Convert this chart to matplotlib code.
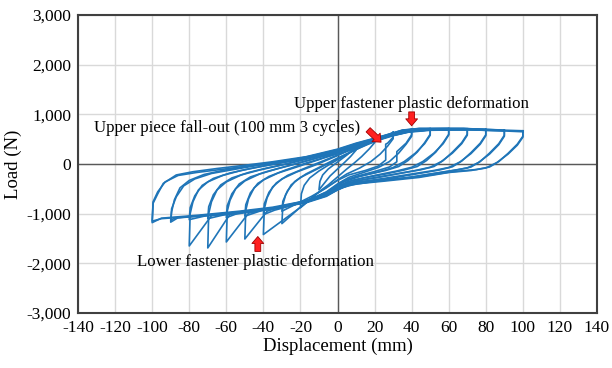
import matplotlib.pyplot as plt
import numpy as np

# Hysteresis loops (mm, N): first cycle at each target displacement
disp_a100 = [100, 100, 97, 92, 87, 82, 75, 62, 44, 25, 10, 3, -6, -17, -35, -53, -75, -95, -100,
             -99.5, -97, -94, -87, -78, -65, -49, -35, -17, 0, 10, 20, 26, 35, 44, 68, 88, 100]
load_a100 = [670, 560, 400, 215, 50, -60, -110, -155, -255, -320, -370, -430, -590, -740, -870, -950, -1030, -1090, -1180,
             -790, -600, -390, -220, -155, -90, -20, 46, 147, 300, 420, 520, 583, 684, 717, 717, 684, 670]

disp_a90 = [90, 90, 87, 82, 77, 72, 65, 55, 40, 22, 8, 2, -6, -17, -35, -53, -75, -86, -90,
            -89.5, -88, -85, -80, -72, -62, -49, -35, -17, 0, 10, 20, 26, 35, 44, 68, 90]
load_a90 = [684, 580, 410, 220, 50, -60, -115, -175, -265, -340, -400, -480, -620, -760, -890, -965, -1045, -1080, -1170,
            -960, -720, -480, -330, -210, -130, -45, 30, 135, 290, 410, 515, 580, 680, 714, 714, 684]

disp_a80 = [80, 80, 77, 72, 67, 62, 55, 44, 30, 15, 5, 0, -6, -17, -35, -53, -68, -80,
            -79.5, -78, -75, -70, -62, -52, -40, -28, -15, 0, 10, 20, 26, 35, 44, 68, 80]
load_a80 = [700, 590, 420, 230, 60, -55, -120, -190, -280, -350, -420, -520, -640, -770, -895, -975, -1040, -1650,
            -1000, -760, -520, -360, -230, -130, -40, 40, 140, 280, 400, 510, 575, 675, 710, 712, 700]

disp_a70 = [70, 70, 67, 62, 57, 52, 45, 35, 22, 10, 4, 0, -6, -17, -35, -48, -58, -70,
            -69.5, -68, -65, -60, -52, -42, -30, -17, 0, 10, 20, 26, 35, 44, 60, 70]
load_a70 = [710, 600, 430, 240, 70, -50, -115, -180, -270, -340, -410, -500, -630, -765, -890, -950, -1010, -1690,
            -1000, -760, -520, -360, -220, -120, -20, 110, 270, 395, 505, 570, 670, 708, 712, 710]

disp_a60 = [60, 60, 57, 53, 48, 43, 36, 26, 14, 5, 0, -6, -17, -30, -38, -48, -60,
            -59.5, -58, -55, -50, -42, -32, -20, -8, 0, 10, 20, 26, 35, 44, 60]
load_a60 = [715, 600, 430, 240, 70, -50, -120, -200, -280, -360, -470, -610, -755, -850, -905, -990, -1570,
            -950, -730, -500, -340, -200, -90, 30, 160, 250, 385, 500, 565, 665, 705, 715]

disp_a50 = [50, 50, 47, 43, 38, 33, 26, 16, 6, 0, -6, -17, -28, -38, -50,
            -49.5, -48, -45, -40, -32, -22, -10, 0, 10, 20, 26, 35, 44, 50]
load_a50 = [713, 600, 430, 240, 70, -50, -130, -210, -300, -430, -590, -740, -830, -950, -1510,
            -930, -700, -480, -320, -180, -60, 90, 230, 375, 495, 560, 660, 700, 713]

disp_a40 = [40, 40, 37, 32, 32, 28, 20, 10, 3, 0, -6, -14, -21, -40,
            -39.5, -38, -35, -30, -22, -12, 0, 10, 20, 26, 35, 40]
load_a40 = [700, 590, 420, 250, 46, -60, -150, -250, -350, -420, -570, -700, -900, -1420,
            -900, -680, -460, -300, -160, -20, 170, 350, 485, 555, 650, 700]

disp_a30 = [30, 30, 27, 26, 26, 22, 15, 6, 0, -6, -12, -18, -30,
            -29.5, -28, -25, -20, -12, -4, 4, 12, 20, 26, 30]
load_a30 = [640, 540, 420, 400, 80, -40, -130, -220, -330, -470, -620, -800, -1200,
            -820, -620, -420, -270, -120, 30, 180, 330, 470, 550, 640]

disp_a20 = [20, 20, 17, 13, 9, 5, 0, -5, -10, -20,
            -19.5, -18, -15, -10, -4, 3, 10, 16, 20]
load_a20 = [520, 430, 300, 150, 20, -100, -260, -420, -560, -880,
            -600, -430, -280, -140, 0, 150, 300, 420, 520]

disp_a10 = [10, 10, 7, 4, 0, -4, -10, -9.5, -8, -5, 0, 5, 10]
load_a10 = [360, 280, 150, 40, -100, -240, -520, -350, -220, -100, 40, 180, 360]

# Repeated cycles at the same displacement (degraded)
disp_r100 = [100, 100, 97, 92, 86, 80, 72, 60, 44, 25, 10, 3, -6, -17, -35, -53, -75, -95, -100,
             -99.5, -97, -93, -86, -76, -63, -48, -33, -17, 0, 10, 20, 28, 38, 50, 70, 88, 100]
load_r100 = [650, 540, 380, 200, 30, -80, -130, -170, -270, -345, -400, -470, -620, -770, -890, -965, -1045, -1100, -1150,
             -760, -560, -360, -230, -170, -110, -40, 20, 110, 250, 370, 470, 560, 640, 680, 690, 670, 650]

disp_r90 = [90, 90, 87, 82, 76, 70, 62, 50, 35, 18, 6, 0, -6, -17, -35, -53, -75, -88, -90,
            -89.5, -87, -83, -77, -68, -56, -42, -28, -12, 0, 10, 20, 28, 38, 50, 70, 90]
load_r90 = [665, 560, 390, 200, 30, -80, -130, -200, -290, -360, -430, -520, -650, -780, -900, -975, -1050, -1090, -1140,
            -900, -660, -440, -300, -190, -110, -20, 60, 180, 280, 390, 480, 565, 650, 690, 695, 665]

disp_r80 = [80, 80, 77, 72, 66, 60, 52, 40, 25, 10, 3, -3, -10, -20, -35, -53, -72, -80,
            -79.5, -77, -73, -67, -58, -47, -34, -20, -5, 5, 15, 25, 35, 48, 65, 80]
load_r80 = [680, 570, 400, 210, 40, -70, -130, -200, -290, -370, -450, -560, -680, -790, -900, -980, -1050, -1120,
            -880, -640, -430, -290, -180, -90, 0, 100, 220, 320, 440, 540, 640, 690, 695, 680]

disp_r70 = [70, 70, 67, 62, 56, 50, 42, 30, 16, 5, 0, -6, -17, -35, -50, -62, -70,
            -69.5, -67, -63, -57, -48, -37, -24, -10, 0, 10, 20, 28, 38, 52, 70]
load_r70 = [690, 580, 410, 220, 50, -65, -130, -210, -300, -390, -490, -630, -770, -900, -970, -1030, -1100,
            -860, -620, -420, -280, -170, -70, 30, 160, 250, 370, 480, 570, 660, 690, 690]

disp_r60 = [60, 60, 57, 52, 46, 40, 32, 20, 8, 0, -6, -17, -32, -45, -55, -60,
            -59.5, -57, -53, -47, -38, -27, -14, 0, 10, 20, 28, 38, 50, 60]
load_r60 = [695, 585, 410, 220, 50, -65, -140, -230, -330, -460, -600, -750, -870, -950, -1010, -1080,
            -840, -600, -400, -260, -150, -40, 90, 230, 350, 470, 560, 650, 690, 695]

disp_r50 = [50, 50, 47, 42, 36, 30, 22, 12, 4, 0, -6, -17, -30, -42, -50,
            -49.5, -47, -43, -37, -28, -17, -4, 5, 14, 22, 30, 40, 50]
load_r50 = [690, 580, 410, 220, 50, -70, -160, -250, -350, -440, -580, -740, -860, -950, -1050,
            -820, -580, -390, -250, -120, 20, 160, 260, 380, 480, 570, 660, 690]

disp_r40 = [40, 40, 37, 33, 28, 22, 14, 6, 0, -6, -14, -24, -34, -40,
            -39.5, -37, -33, -27, -18, -8, 2, 12, 20, 28, 34, 40]
load_r40 = [670, 560, 400, 220, 50, -70, -170, -270, -400, -560, -700, -830, -930, -1020,
            -800, -570, -380, -230, -90, 60, 210, 360, 460, 560, 630, 670]

disp_r30 = [30, 30, 27, 23, 18, 12, 5, 0, -6, -14, -22, -30,
            -29.5, -27, -23, -17, -9, 0, 8, 16, 22, 30]
load_r30 = [610, 510, 360, 200, 50, -80, -200, -320, -480, -650, -800, -950,
            -750, -540, -350, -200, -50, 120, 260, 390, 480, 610]

loops = [(disp_a10, load_a10), (disp_a20, load_a20), (disp_a30, load_a30), (disp_r30, load_r30),
         (disp_a40, load_a40), (disp_r40, load_r40), (disp_a50, load_a50), (disp_r50, load_r50),
         (disp_a60, load_a60), (disp_r60, load_r60), (disp_a70, load_a70), (disp_r70, load_r70),
         (disp_a80, load_a80), (disp_r80, load_r80), (disp_a90, load_a90), (disp_r90, load_r90),
         (disp_a100, load_a100), (disp_r100, load_r100)]

plt.rcParams['font.family'] = 'Liberation Serif'
plt.rcParams['axes.unicode_minus'] = False
fig = plt.figure(figsize=(6.12, 3.68), dpi=100)
ax = fig.add_axes([0.1275, 0.1495, 0.848, 0.8095])

for d, f in loops:
    ax.plot(d, f, color='#1f75b8', lw=1.2, solid_joinstyle='round')

ax.set_xlim(-140, 140)
ax.set_ylim(-3000, 3000)
ax.set_xticks(np.arange(-140, 141, 20))
ax.set_yticks(np.arange(-3000, 3001, 1000))
ax.set_yticklabels([f'{v:,}' for v in range(-3000, 3001, 1000)])
ax.tick_params(length=0, labelsize=12.5, pad=5)
ax.grid(color='#d9d9d9', lw=1)
ax.set_axisbelow(True)
ax.axhline(0, color='#595959', lw=1, zorder=1.5)
ax.axvline(0, color='#595959', lw=1, zorder=1.5)
for s in ax.spines.values():
    s.set_color('#404040')
    s.set_linewidth(1.5)

ax.set_xlabel('Displacement (mm)', fontsize=13.5, labelpad=1)
ax.set_ylabel('Load (N)', fontsize=13.5, labelpad=3)

arrow = dict(arrowstyle='simple,head_width=0.85,head_length=0.5,tail_width=0.42',
             mutation_scale=10, shrinkA=0, shrinkB=0,
             fc='#ff2020', ec='#a00000', lw=0.6)
ax.annotate('', xy=(40, 770), xytext=(40, 1050), arrowprops=arrow)
ax.annotate('', xy=(23.5, 440), xytext=(16.5, 690), arrowprops=arrow)
ax.annotate('', xy=(-43, -1460), xytext=(-43, -1760), arrowprops=arrow)

ax.text(40, 1200, 'Upper fastener plastic deformation', ha='center', va='center', fontsize=12.2)
ax.text(-131.5, 730, 'Upper piece fall-out (100 mm 3 cycles)', ha='left', va='center', fontsize=12.2)
ax.text(-44, -1970, 'Lower fastener plastic deformation', ha='center', va='center', fontsize=12.2)

fig.savefig('out.png', dpi=100)
